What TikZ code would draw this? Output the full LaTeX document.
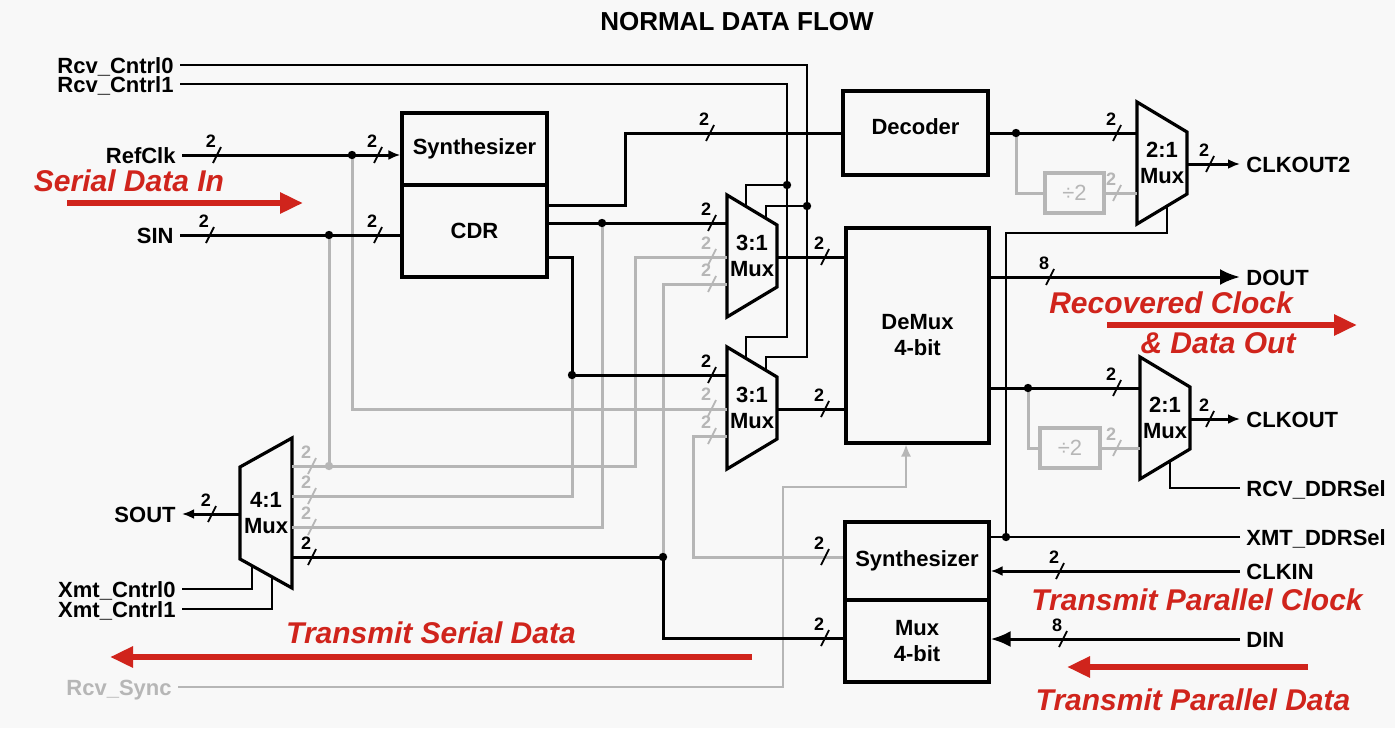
\documentclass[tikz,border=0pt]{standalone}
\usepackage{fontspec}
\setmainfont{Liberation Sans}
\usetikzlibrary{calc,arrows.meta}
\definecolor{flowred}{RGB}{208,36,28}
\definecolor{wiregray}{RGB}{182,182,182}
\definecolor{paper}{RGB}{248,248,248}

\tikzset{
	blk/.style={draw, line width=1.6pt, align=center, inner sep=0pt, font=\bfseries\fontsize{11}{13}\selectfont},
	muxlbl/.style={align=center, inner sep=0pt, font=\bfseries\fontsize{11}{13}\selectfont},
	muxline/.style={line width=1.6pt, line join=miter},
	bus/.style={line width=1.5pt},
	gbus/.style={line width=1.5pt, color=wiregray},
	ctl/.style={line width=0.7pt},
	gctl/.style={line width=0.7pt, color=wiregray},
	pinl/.style={anchor=east, inner sep=3pt, text height=8pt, text depth=0pt, font=\bfseries\fontsize{11}{13}\selectfont},
	pinr/.style={pinl, anchor=west},
	sig/.style={-{Latex[length=6pt,width=5pt]}},
	bigsig/.style={-{Latex[length=10pt,width=8pt]}},
	flow/.style={line width=3pt, color=flowred, -{Triangle[length=11.5pt,width=10pt]}},
	flowtext/.style={text=flowred, inner sep=0pt, font=\bfseries\itshape\fontsize{15}{17}\selectfont},
	slashlbl/.style={inner sep=0pt, font=\bfseries\fontsize{9}{10}\selectfont},
}

\newcount\bwcount
\def\busw[#1](#2)#3{\global\advance\bwcount by 1
	\draw[color=#1, line width=0.9pt] ($(#2)+(-4,8)$) -- ($(#2)+(4,-8)$);
	\node[slashlbl, text=#1] (bw\the\bwcount) at ($(#2)+(-6,-14)$) {#3};}
\def\threemux(#1)(#2)#3{%
	\node[muxlbl] (#1) at (#2) {#3};
	\draw[muxline] ($(#1.center)+(-25,-61)$) -- ($(#1.center)+(25,-31)$) -- ($(#1.center)+(25,31)$) -- ($(#1.center)+(-25,61)$) -- cycle;
	\coordinate (#1-i1) at ($(#1.center)+(-25,-33)$);
	\coordinate (#1-i2) at ($(#1.center)+(-25,1)$);
	\coordinate (#1-i3) at ($(#1.center)+(-25,28)$);
	\coordinate (#1-o) at ($(#1.center)+(25,1)$);
	\coordinate (#1-s1) at ($(#1.center)+(-6,-50)$);
	\coordinate (#1-s2) at ($(#1.center)+(14,-38)$);}
\def\twomux(#1)(#2)#3{%
	\node[muxlbl] (#1) at (#2) {#3};
	\draw[muxline] ($(#1.center)+(-25,-61)$) -- ($(#1.center)+(25,-31)$) -- ($(#1.center)+(25,31)$) -- ($(#1.center)+(-25,61)$) -- cycle;
	\coordinate (#1-i1) at ($(#1.center)+(-25,-30)$);
	\coordinate (#1-i2) at ($(#1.center)+(-25,30)$);
	\coordinate (#1-o) at ($(#1.center)+(25,1)$);
	\coordinate (#1-s) at ($(#1.center)+(5,43)$);}

\begin{document}
\begin{tikzpicture}[x=0.5pt, y=-0.5pt]
		%%%%% START %%%%%
		
		\fill[paper] (0,0) rectangle (1395,728);
		\useasboundingbox (0,0) rectangle (1395,728);
		
		\node[font=\bfseries\fontsize{13}{15}\selectfont] (title) at (737,22) {NORMAL DATA FLOW};
		
		% pins
		\node[pinl] (rc0) at (180,65) {Rcv\_Cntrl0};
		\node[pinl] (rc1) at (180,84) {Rcv\_Cntrl1};
		\node[pinl] (refclk) at (182,155) {RefClk};
		\node[pinl] (sin) at (180,235) {SIN};
		\node[pinl] (sout) at (182,514) {SOUT};
		\node[pinl] (xc0) at (182,589) {Xmt\_Cntrl0};
		\node[pinl] (xc1) at (182,609) {Xmt\_Cntrl1};
		\node[pinl, text=wiregray] (rsync) at (178,687) {Rcv\_Sync};
		\node[pinr] (clkout2) at (1240,164) {CLKOUT2};
		\node[pinr] (dout) at (1240,277) {DOUT};
		\node[pinr] (clkout) at (1240,419) {CLKOUT};
		\node[pinr] (rdd) at (1240,488) {RCV\_DDRSel};
		\node[pinr] (xdd) at (1240,537) {XMT\_DDRSel};
		\node[pinr] (clkin) at (1240,571) {CLKIN};
		\node[pinr] (din) at (1240,639) {DIN};
		
		% blocks
		\node[blk, minimum width=72.5pt, minimum height=36pt] (rsyn) at (474.5,149) {Synthesizer};
		\node[blk, minimum width=72.5pt, minimum height=46pt] (cdr) at (474.5,231) {CDR};
		\node[blk, minimum width=72.5pt, minimum height=42pt, text height=8pt, text depth=7pt] (dec) at (915.5,133) {Decoder};
		\node[blk, minimum width=71.5pt, minimum height=107.5pt] (dmx) at (917.5,335.5) {DeMux\\4-bit};
		\node[blk, minimum width=72pt, minimum height=39pt] (tsyn) at (917,561) {Synthesizer};
		\node[blk, minimum width=72pt, minimum height=41pt] (tmux) at (917,641) {Mux\\4-bit};
		\node[blk, color=wiregray, minimum width=29.5pt, minimum height=20pt, font=\fontsize{11}{13}\selectfont] (div1) at (1074.5,193) {÷2};
		\node[blk, color=wiregray, minimum width=30pt, minimum height=20pt, font=\fontsize{11}{13}\selectfont] (div2) at (1070,448) {÷2};
		
		\threemux(mtop)(752,256){3:1\\Mux}
		\threemux(mbot)(752,408){3:1\\Mux}
		\twomux(mhi)(1162,163){2:1\\Mux}
		\twomux(mlo)(1165,418){2:1\\Mux}
		
		\node[muxlbl] (mser) at (266,513) {4:1\\Mux};
		\draw[muxline] ($(mser.center)+(26,-75)$) -- ($(mser.center)+(26,75)$) -- ($(mser.center)+(-26,46)$) -- ($(mser.center)+(-26,-46)$) -- cycle;
		\coordinate (mser-i1) at ($(mser.center)+(26,-47)$);
		\coordinate (mser-i2) at ($(mser.center)+(26,-17)$);
		\coordinate (mser-i3) at ($(mser.center)+(26,14)$);
		\coordinate (mser-i4) at ($(mser.center)+(26,44)$);
		\coordinate (mser-o) at ($(mser.center)+(-26,1)$);
		\coordinate (mser-s1) at ($(mser.center)+(-14,53)$);
		\coordinate (mser-s2) at ($(mser.center)+(6,64)$);
		
		% junctions
		\coordinate (jref) at (352,155);
		\coordinate (jsin) at (329,235);
		\coordinate (jloop) at (329,466);
		\coordinate (jcdr) at (602,223);
		\coordinate (jcdr2) at (572,375);
		\coordinate (jc1) at (787,185);
		\coordinate (jc0) at (807,206);
		\coordinate (jdec) at (1016,133);
		\coordinate (jdmx) at (1028,388);
		\coordinate (jxdd) at (1006,537);
		\coordinate (jtx) at (663,557);
		
		% loop-back paths
		\draw[gbus] (jref) |- (mbot-i2);
		\draw[gbus] (jsin) -- (jloop);
		\draw[gbus] (mser-i1) -- (635,466) |- (mtop-i2);
		\draw[gbus] (jcdr2) |- (mser-i2);
		\draw[gbus] (jcdr) |- (mser-i3);
		\draw[gbus] (mtop-i3) -| (jtx);
		\draw[gbus] (mbot-i3) -| (693,557) -- (tsyn.west |- jtx);
		\draw[gbus] (jdec) |- (div1.west);
		\draw[gbus] (div1.east) -- (mhi-i2);
		\draw[gbus] (jdmx) |- (div2.west);
		\draw[gbus] (div2.east) -- (mlo-i2);
		\draw[gctl, -{Latex[length=6pt,width=5pt]}] (rsync.east) -- (783,687) |- (906,487) -- (906,0 |- dmx.south);
		
		% control lines
		\draw[ctl] (rc0.east) -- (807,65) -- (807,357) -| (mbot-s2);
		\draw[ctl] (jc0) -| (mtop-s2);
		\draw[ctl] (rc1.east) -- (787,84) -- (787,337) -| (mbot-s1);
		\draw[ctl] (jc1) -| (mtop-s1);
		\draw[ctl] (xdd.west) -- (tsyn.east |- xdd.west);
		\draw[ctl] (jxdd) -- (1006,233) -| (mhi-s);
		\draw[ctl] (mlo-s) |- (rdd.west);
		\draw[ctl] (xc0.east) -| (mser-s1);
		\draw[ctl] (xc1.east) -| (mser-s2);
		
		% data buses
		\draw[bus, sig] (refclk.east) -- (rsyn.west |- refclk.east);
		\draw[bus] (sin.east) -- (cdr.west |- sin.east);
		\draw[bus] (cdr.east |- 0,205) -| (625,133) -- (dec.west);
		\draw[bus] (cdr.east |- mtop-i1) -- (mtop-i1);
		\draw[bus] (cdr.east |- 0,257) -| (jcdr2) -- (mbot-i1);
		\draw[bus] (mtop-o) -- (dmx.west |- mtop-o);
		\draw[bus] (mbot-o) -- (dmx.west |- mbot-o);
		\draw[bus] (dec.east) -- (mhi-i1);
		\draw[bus, sig] (mhi-o) -- (clkout2.west);
		\draw[bus, bigsig] (dmx.east |- dout.west) -- (dout.west);
		\draw[bus] (dmx.east |- mlo-i1) -- (mlo-i1);
		\draw[bus, sig] (mlo-o) -- (clkout.west);
		\draw[bus, sig] (clkin.west) -- (tsyn.east |- clkin.west);
		\draw[bus, bigsig] (din.west) -- (tmux.east |- din.west);
		\draw[bus] (tmux.west |- 0,638) -| (jtx) -- (mser-i4);
		\draw[bus, sig] (mser-o) -- (sout.east);
		
		\foreach \j in {jref,jsin,jcdr,jcdr2,jc0,jc1,jdec,jdmx,jxdd,jtx}
			\fill (\j) circle (2.1pt);
		\fill[wiregray] (jloop) circle (2.1pt);
		
		% bus widths
		\busw[black](217,155){2}
		\busw[black](378,155){2}
		\busw[black](210,235){2}
		\busw[black](378,235){2}
		\busw[black](710,133){2}
		\busw[black](712,223){2}
		\busw[black](712,375){2}
		\busw[wiregray](712,257){2}
		\busw[wiregray](712,284){2}
		\busw[wiregray](712,408){2}
		\busw[wiregray](712,436){2}
		\busw[black](825,257){2}
		\busw[black](825,409){2}
		\busw[black](1117,133){2}
		\busw[wiregray](1117,193){2}
		\busw[black](1210,164){2}
		\busw[black](1050,277){8}
		\busw[black](1117,388){2}
		\busw[wiregray](1117,448){2}
		\busw[black](1210,419){2}
		\busw[black](1060,571){2}
		\busw[black](1063,639){8}
		\busw[black](825,557){2}
		\busw[black](825,638){2}
		\busw[wiregray](312,466){2}
		\busw[wiregray](312,496){2}
		\busw[wiregray](312,527){2}
		\busw[black](312,557){2}
		\busw[black](212,514){2}
		
		% flow annotations
		\node[flowtext] (sdin) at (129,181) {Serial Data In};
		\draw[flow] (67,203) -- (303,203);
		\node[flowtext] (tsd) at (431,633) {Transmit Serial Data};
		\draw[flow] (752,657) -- (110,657);
		\node[flowtext] (rcc) at (1171,303) {Recovered Clock};
		\node[flowtext] (rcd) at (1218,343) {\& Data Out};
		\draw[flow] (1107,325) -- (1357,325);
		\node[flowtext] (tpc) at (1197,600) {Transmit Parallel Clock};
		\node[flowtext] (tpd) at (1193,700) {Transmit Parallel Data};
		\draw[flow] (1308,667) -- (1067,667);
		
		%%%%% END %%%%%
\end{tikzpicture}
\end{document}
